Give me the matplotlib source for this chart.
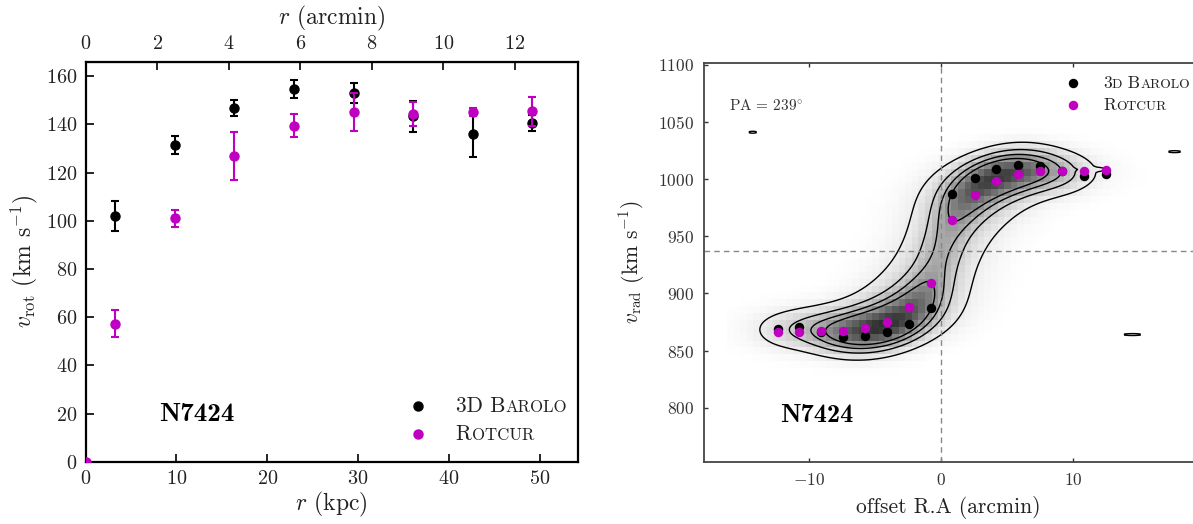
import numpy as np
import matplotlib
matplotlib.use("Agg")
import matplotlib.pyplot as plt
from matplotlib.colors import LinearSegmentedColormap, PowerNorm
from matplotlib.offsetbox import TextArea, HPacker, AnchoredOffsetbox

plt.rcParams['font.family'] = ['cmr10', 'DejaVu Serif']
plt.rcParams['mathtext.fontset'] = 'cm'
plt.rcParams['axes.formatter.use_mathtext'] = True
plt.rcParams['axes.unicode_minus'] = False

# ---------------- data: rotation curve (left panel) ----------------
KPC_PER_ARCMIN = 3.94
r_kpc = [3.21, 9.79, 16.37, 22.95, 29.54, 36.08, 42.66, 49.16]
vrot_barolo = [102.0, 131.4, 146.8, 154.7, 152.9, 143.4, 136.1, 140.6]
err_barolo = [6.2, 3.8, 3.4, 3.6, 4.2, 6.4, 9.5, 3.3]
r_kpc_rotcur = [0.0, 3.21, 9.79, 16.37, 22.95, 29.54, 36.08, 42.66, 49.16]
vrot_rotcur = [0.0, 57.3, 101.0, 127.0, 139.5, 145.2, 144.2, 145.0, 145.4]
err_rotcur = [0.0, 5.5, 3.5, 9.9, 4.7, 8.0, 5.0, 1.7, 5.9]

# ---------------- data: position-velocity diagram (right panel) ----------------
VSYS = 937.0
pv_offset = [-12.41, -10.78, -9.13, -7.47, -5.78, -4.13, -2.47, -0.78,
             0.84, 2.53, 4.19, 5.84, 7.50, 9.16, 10.81, 12.47]
vrad_barolo = [868.6, 870.9, 866.0, 862.2, 862.5, 866.0, 873.0, 887.6,
               986.8, 1001.1, 1008.7, 1012.5, 1011.9, 1007.0, 1002.8, 1004.9]
vrad_rotcur = [866.3, 866.3, 866.8, 866.8, 869.5, 875.3, 887.9, 909.2,
               964.3, 985.9, 998.7, 1004.9, 1007.2, 1006.9, 1007.2, 1007.8]
# HI disk model behind the PV slice: brightness profile (arcmin)
sb_radius = [0, 1, 2, 3, 4, 5, 6, 7, 8, 9, 10, 11, 12, 13, 14]
sb_neg = [0.85, 1.0, 1.0, 1.0, 1.0, 0.92, 0.78, 0.60, 0.40, 0.24, 0.14, 0.10, 0.08, 0.04, 0.0]
sb_pos = [0.85, 1.0, 1.0, 1.0, 0.95, 0.85, 0.70, 0.50, 0.32, 0.18, 0.07, 0.01, 0.0, 0.0, 0.0]
COS_INC = 0.87
SIGMA_V = 10.0      # km/s
SIGMA_BEAM = 1.0    # arcmin, beam core along the slit
SIGMA_CROSS = 0.8   # arcmin, beam core across the slit
SIGMA_WING = 2.2    # arcmin, faint beam wings
WING_AMP = 0.12
N_SPREAD = 5        # gas spread between the two fitted curves
contour_levels = [0.038, 0.14, 0.27, 0.42]
# isolated noise peaks seen as tiny contours
blob_x = [-14.3, 17.7, 14.5, 11.45]
blob_v = [1041.0, 1024.0, 864.0, 1008.5]
blob_sx = [0.37, 0.6, 0.85, 0.8]

MAG = '#c000c0'

fig = plt.figure(figsize=(11.93, 5.24), dpi=100)

# ================= left panel =================
ax1 = fig.add_axes([0.0718, 0.1189, 0.4124, 0.7634])
ax1.errorbar(r_kpc, vrot_barolo, yerr=err_barolo, fmt='o', color='black',
             ms=6.5, elinewidth=1.5, capsize=3, capthick=1.5, zorder=3)
ax1.errorbar(r_kpc_rotcur, vrot_rotcur, yerr=err_rotcur, fmt='o', color=MAG,
             ms=6.5, elinewidth=1.5, capsize=3, capthick=1.5, zorder=4)
ax1.set_xlim(0, 54.2)
ax1.set_ylim(0, 166)
ax1.set_xticks([0, 10, 20, 30, 40, 50])
ax1.set_yticks(np.arange(0, 161, 20))
ax1.tick_params(direction='in', length=6, width=1.2, labelsize=14.5, pad=6,
                right=False, top=False, labelcolor='#222222')
for s in ax1.spines.values():
    s.set_linewidth(1.6)
ax1.set_xlabel(r'$r$ (kpc)', fontsize=17, labelpad=1, color='#222222')
ax1.set_ylabel(r'$v_{\rm rot}$ (km s$^{-1}$)', fontsize=17, labelpad=4, color='#222222')

sec = ax1.secondary_xaxis('top', functions=(lambda x: x / KPC_PER_ARCMIN,
                                             lambda x: x * KPC_PER_ARCMIN))
sec.set_xticks([0, 2, 4, 6, 8, 10, 12])
sec.tick_params(direction='in', length=6, width=1.2, labelsize=14.5, pad=6,
                labelcolor='#222222')
sec.set_xlabel(r'$r$ (arcmin)', fontsize=17, labelpad=8, color='#222222')

ax1.text(0.225, 0.119, 'N7424', transform=ax1.transAxes, fontsize=19.5,
         family='cmb10', ha='center', va='center')


def sc_text(parts, size):
    kids = []
    for txt, small in parts:
        kids.append(TextArea(txt, textprops=dict(size=size * (0.78 if small else 1.0),
                                                 family='cmr10', color='#222222')))
    return HPacker(children=kids, align='baseline', pad=0, sep=0)


def add_legend(ax, mx, my, tx, size, ms, labels, transform):
    for (y, col, parts) in zip(my, ['black', MAG], labels):
        ax.plot([mx], [y], 'o', color=col, ms=ms, transform=transform, clip_on=False, zorder=6)
        box = AnchoredOffsetbox(loc='center left', child=sc_text(parts, size), pad=0,
                                frameon=False, bbox_to_anchor=(tx, y),
                                bbox_transform=transform, borderpad=0)
        ax.add_artist(box)


add_legend(ax1, 0.675, [0.139, 0.068], 0.752, 15.5, 6.5,
           [[('3D B', False), ('AROLO', True)], [('R', False), ('OTCUR', True)]],
           ax1.transAxes)

# ================= right panel =================
ax2 = fig.add_axes([0.5901, 0.1183, 0.4099, 0.7624])
XMIN, XMAX, VMIN, VMAX = -18.0, 19.1, 752.5, 1102.0

off = np.array(pv_offset)


def side_curve(vals):
    amp = np.abs(np.array(vals) - VSYS)
    rn = np.concatenate([[0.0], -off[off < 0][::-1]])
    an = np.concatenate([[0.0], amp[off < 0][::-1]])
    rp = np.concatenate([[0.0], off[off > 0]])
    ap = np.concatenate([[0.0], amp[off > 0]])
    return rn, an, rp, ap


# sample the disk seen through the beam along and across the slit
xp, yp = np.meshgrid(np.arange(-15.0, 15.001, 0.15), np.arange(-6.0, 6.001, 0.3))
xp = xp.ravel()
yp = yp.ravel()
Rd = np.sqrt(xp ** 2 + (yp / COS_INC) ** 2) + 1e-6
neg = xp < 0
amps = []
for vals in (vrad_barolo, vrad_rotcur):
    rn, an, rp, ap = side_curve(vals)
    amps.append(np.where(neg, np.interp(Rd, rn, an), np.interp(Rd, rp, ap)))
sbd = np.where(neg, np.interp(Rd, sb_radius, sb_neg), np.interp(Rd, sb_radius, sb_pos))
w_core = sbd * np.exp(-yp ** 2 / (2 * SIGMA_CROSS ** 2))
w_wing = sbd * WING_AMP * np.exp(-yp ** 2 / (2 * SIGMA_WING ** 2))


def pv_model(xg, vg):
    d2 = (xg[:, None] - xp[None, :]) ** 2
    Gc = np.exp(-d2 / (2 * SIGMA_BEAM ** 2)).T
    Gw = np.exp(-d2 / (2 * SIGMA_WING ** 2)).T
    img = np.zeros((len(vg), len(xg)))
    for f in np.linspace(0.0, 1.0, N_SPREAD):
        vlos = VSYS + (amps[0] + f * (amps[1] - amps[0])) * xp / Rd
        Gv = np.exp(-(vg[:, None] - vlos[None, :]) ** 2 / (2 * SIGMA_V ** 2))
        img += (Gv * w_core[None, :]) @ Gc + (Gv * w_wing[None, :]) @ Gw
    return img


xf = np.arange(XMIN, XMAX + 0.05, 0.1)
vf = np.arange(VMIN, VMAX + 1, 1.0)
fine = pv_model(xf, vf)
peak = fine.max()
fine = fine / peak
for bx, bv, bs in zip(blob_x, blob_v, blob_sx):
    fine = fine + 0.055 * np.exp(-(xf[None, :] - bx) ** 2 / (2 * bs ** 2)
                                 - (vf[:, None] - bv) ** 2 / (2 * 1.0 ** 2))

xc = np.arange(-16.0, 16.01, 0.5)
vc = np.arange(790.0, 1070.0, 6.0)
coarse = pv_model(xc, vc) / peak
cmap = LinearSegmentedColormap.from_list('pv', ['#ffffff', '#2e2e2e'])
ax2.imshow(coarse, extent=[xc[0] - 0.25, xc[-1] + 0.25, vc[0] - 3, vc[-1] + 3],
           origin='lower', aspect='auto', cmap=cmap, norm=PowerNorm(0.75, 0.0, 1.0),
           interpolation='nearest', zorder=1)
ax2.contour(xf, vf, fine, levels=contour_levels, colors='black', linewidths=1.0, zorder=2)

ax2.axvline(0, color='#888888', lw=1.0, ls=(0, (4, 3)), zorder=2)
ax2.axhline(VSYS, color='#888888', lw=1.0, ls=(0, (4, 3)), zorder=2)

ax2.plot(pv_offset, vrad_barolo, 'o', color='black', ms=5.8, zorder=4)
ax2.plot(pv_offset, vrad_rotcur, 'o', color=MAG, ms=5.8, zorder=5)

ax2.set_xlim(XMIN, XMAX)
ax2.set_ylim(VMIN, VMAX)
ax2.set_xticks([-10, 0, 10])
ax2.set_yticks(np.arange(800, 1101, 50))
ax2.tick_params(direction='in', length=3, width=1.0, labelsize=12.5, pad=7,
                top=True, right=False, colors='#333333')
ax2.spines['right'].set_visible(False)
for s in ['left', 'top', 'bottom']:
    ax2.spines[s].set_linewidth(1.3)
    ax2.spines[s].set_color('#444444')
ax2.set_xlabel('offset R.A (arcmin)', fontsize=15.5, labelpad=6, color='#222222')
ax2.set_ylabel(r'$v_{\rm rad}$ (km s$^{-1}$)', fontsize=15.5, labelpad=8, color='#222222')

ax2.text(-13.3, 1064, 'PA = 239$^{\\circ}$', fontsize=11, ha='center', va='center',
         color='#333333')
ax2.text(-9.45, 793.6, 'N7424', fontsize=19, family='cmb10', ha='center', va='center')
add_legend(ax2, 10.0, [1084.0, 1064.4], 12.27, 12.5, 5.8,
           [[('3', False), ('D', True), (' B', False), ('AROLO', True)],
            [('R', False), ('OTCUR', True)]],
           ax2.transData)

fig.savefig('out.png', dpi=100)
